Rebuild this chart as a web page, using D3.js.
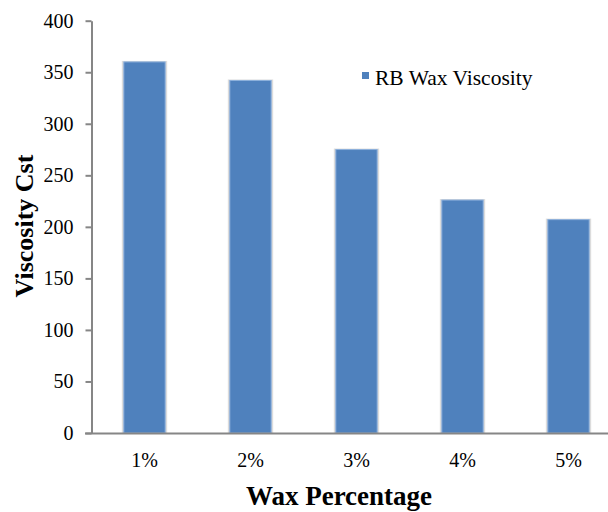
<!DOCTYPE html>
<html><head><meta charset="utf-8">
<script src="https://cdn.jsdelivr.net/npm/d3@7"></script>
</head>
<body style="margin:0;padding:0;background:#fff">
<script>
const categories = ["1%","2%","3%","4%","5%"];
const values = [360, 342, 275, 226, 207];
const yTicks = [0,50,100,150,200,250,300,350,400];
const seriesName = "RB Wax Viscosity";
const xTitle = "Wax Percentage";
const yTitle = "Viscosity Cst";

const FONT = "Liberation Serif";
const W = 608, H = 512;
const svg = d3.select("body").append("svg").attr("width", W).attr("height", H)
  .attr("font-family", FONT);

const x = d3.scaleBand().domain(categories).range([91.5, 621.5]).paddingInner(0.61).paddingOuter(0.305);
const y = d3.scaleLinear().domain([0,400]).range([433, 20.7]);

// bar shadows (soft gray halo)
svg.append("g").selectAll("rect").data(values).join("rect")
  .attr("x", (d,i) => x(categories[i]) - 2)
  .attr("y", d => y(d) - 1)
  .attr("width", x.bandwidth() + 4)
  .attr("height", d => y(0) - y(d) + 1)
  .attr("fill", "#dcdcdc");

// bars
svg.append("g").selectAll("rect").data(values).join("rect")
  .attr("x", (d,i) => x(categories[i]))
  .attr("y", d => y(d))
  .attr("width", x.bandwidth())
  .attr("height", d => y(0) - y(d))
  .attr("fill", "#4F81BD")
  .attr("stroke", "#8db0dc")
  .attr("stroke-width", 1);

// y axis
const yAxis = svg.append("g").attr("transform", "translate(91.5,0)")
  .call(d3.axisLeft(y).tickValues(yTicks).tickSize(6).tickPadding(12).tickSizeOuter(0));
yAxis.attr("font-family", FONT).attr("font-size", 20);
yAxis.select(".domain").attr("stroke", "#868686").attr("stroke-width", 2);
yAxis.selectAll(".tick line").attr("stroke", "#868686").attr("stroke-width", 2);
yAxis.selectAll(".tick text").attr("fill", "#000");

// x axis
const xAxis = svg.append("g").attr("transform", "translate(0,433)")
  .call(d3.axisBottom(x).tickSize(0).tickPadding(20));
xAxis.attr("font-family", FONT).attr("font-size", 20);
xAxis.select(".domain").attr("stroke", "#868686").attr("stroke-width", 2)
  .attr("d", "M85,0.5H608");
xAxis.selectAll(".tick text").attr("fill", "#000");

// titles
svg.append("text").attr("x", 339).attr("y", 505).attr("text-anchor", "middle")
  .attr("font-family", FONT).attr("font-size", 27).attr("font-weight", "bold").text(xTitle);
svg.append("text").attr("transform", "translate(33,226) rotate(-90)").attr("text-anchor", "middle")
  .attr("font-family", FONT).attr("font-size", 26).attr("font-weight", "bold").text(yTitle);

// legend
const lg = svg.append("g");
lg.append("rect").attr("x", 362).attr("y", 72).attr("width", 7).attr("height", 7).attr("fill", "#4F81BD");
lg.append("text").attr("x", 375).attr("y", 85).attr("font-family", FONT).attr("font-size", 21.5).text(seriesName);
</script>
</body></html>
